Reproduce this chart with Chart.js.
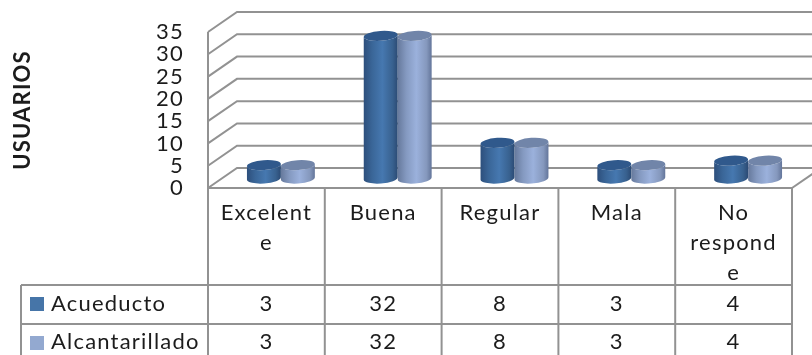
<!DOCTYPE html>
<html>
<head>
<meta charset="utf-8">
<title>Usuarios</title>
<script src="https://cdn.jsdelivr.net/npm/chart.js@4.4.0/dist/chart.umd.min.js"></script>
<style>
  html, body { margin: 0; padding: 0; background: #fff; overflow: hidden; }
  canvas { display: block; filter: blur(0.4px); }
</style>
</head>
<body>
<canvas id="chart" width="812" height="355"></canvas>
<script>
const categories = [['Excelent', 'e'], ['Buena'], ['Regular'], ['Mala'], ['No', 'respond', 'e']];
const seriesNames = ['Acueducto', 'Alcantarillado'];
const acueducto = [3, 32, 8, 3, 4];
const alcantarillado = [3, 32, 8, 3, 4];

const FONT = 'Lato, "Open Sans", sans-serif';
const TEXT = '#1c1c1c';
const LINE = '#929292';
const SPACING = '1.2px';
// how far the back wall sits behind the front edge
const DEPTH_X = 29;
const DEPTH_Y = 20;

function strokeLine(ctx, points) {
  ctx.beginPath();
  points.forEach((p, i) => i ? ctx.lineTo(p[0], p[1]) : ctx.moveTo(p[0], p[1]));
  ctx.stroke();
}

// walls and floor of the 3d box, grid follows the y scale
const wallsPlugin = {
  id: 'walls',
  beforeDatasetsDraw(chart) {
    const { ctx, scales: { x, y } } = chart;
    ctx.save();
    ctx.strokeStyle = LINE;
    ctx.lineWidth = 2;
    y.ticks.forEach(t => {
      const py = y.getPixelForValue(t.value);
      strokeLine(ctx, [[x.left, py], [x.left + DEPTH_X, py - DEPTH_Y], [812, py - DEPTH_Y]]);
    });
    strokeLine(ctx, [[x.left, y.top], [x.left, y.bottom]]);
    strokeLine(ctx, [[x.right, y.bottom], [x.right + DEPTH_X, y.bottom - DEPTH_Y]]);
    ctx.restore();
  }
};

// each bar is painted as a cylinder standing halfway into the box
const cylinderPlugin = {
  id: 'cylinder',
  beforeDatasetDraw(chart, args) {
    const { ctx } = chart;
    const dark = args.index === 0;
    const meta = chart.getDatasetMeta(args.index);
    const shiftX = DEPTH_X / 2;
    const shiftY = DEPTH_Y / 2 - 0.5;
    const tilt = -0.07;
    const ry = 5;
    meta.data.forEach(el => {
      const rx = el.width / 2;
      const cx = el.x + shiftX;
      const top = el.y - shiftY;
      const base = el.base - shiftY;
      const grad = ctx.createLinearGradient(cx - rx, 0, cx + rx, 0);
      if (dark) {
        grad.addColorStop(0, '#2d4f7c');
        grad.addColorStop(0.25, '#3a6698');
        grad.addColorStop(0.55, '#4678b0');
        grad.addColorStop(0.85, '#38618f');
        grad.addColorStop(1, '#2b4a74');
      } else {
        grad.addColorStop(0, '#66799c');
        grad.addColorStop(0.25, '#8499c0');
        grad.addColorStop(0.55, '#9bb1dc');
        grad.addColorStop(0.85, '#8598bd');
        grad.addColorStop(1, '#63759a');
      }
      ctx.save();
      ctx.fillStyle = grad;
      ctx.beginPath();
      ctx.ellipse(cx, top, rx, ry, tilt, Math.PI, 0, true);
      ctx.ellipse(cx, base, rx, ry, tilt, 0, Math.PI, false);
      ctx.closePath();
      ctx.fill();
      ctx.fillStyle = dark ? '#30598c' : '#7185a9';
      ctx.beginPath();
      ctx.ellipse(cx, top, rx, ry, tilt, 0, Math.PI * 2);
      ctx.fill();
      ctx.restore();
    });
    return false;
  }
};

// data table under the plot, with its legend keys
const tablePlugin = {
  id: 'table',
  afterDraw(chart) {
    const { ctx, scales: { x, y } } = chart;
    const rows = [
      { name: seriesNames[0], values: acueducto, color: chart.data.datasets[0].backgroundColor, textY: 304, keyY: 297 },
      { name: seriesNames[1], values: alcantarillado, color: chart.data.datasets[1].backgroundColor, textY: 342, keyY: 336 }
    ];
    const step = (x.right - x.left) / categories.length;
    ctx.save();
    ctx.letterSpacing = SPACING;
    ctx.strokeStyle = LINE;
    ctx.lineWidth = 2;
    strokeLine(ctx, [[x.left, y.bottom], [x.right, y.bottom]]);
    strokeLine(ctx, [[21, 285], [x.right, 285]]);
    strokeLine(ctx, [[21, 324], [x.right, 324]]);
    strokeLine(ctx, [[21, 285], [21, 355]]);
    for (let i = 0; i <= categories.length; i++) {
      const px = x.left + step * i;
      strokeLine(ctx, [[px, y.bottom], [px, 355]]);
    }
    ctx.font = '22px ' + FONT;
    ctx.textBaseline = 'middle';
    rows.forEach(row => {
      ctx.fillStyle = row.color;
      ctx.fillRect(30, row.keyY, 14, 14);
      ctx.fillStyle = TEXT;
      ctx.textAlign = 'left';
      ctx.fillText(row.name, 51, row.textY);
      ctx.textAlign = 'center';
      row.values.forEach((v, i) => ctx.fillText(String(v), x.getPixelForValue(i), row.textY));
    });
    ctx.restore();
  }
};

new Chart(document.getElementById('chart'), {
  type: 'bar',
  data: {
    labels: categories,
    datasets: [
      { label: seriesNames[0], data: acueducto, backgroundColor: '#4675a8' },
      { label: seriesNames[1], data: alcantarillado, backgroundColor: '#93a9d0' }
    ]
  },
  plugins: [
    { id: 'spacing', beforeDraw(chart) { chart.ctx.letterSpacing = SPACING; } },
    wallsPlugin, cylinderPlugin, tablePlugin
  ],
  options: {
    responsive: false,
    animation: false,
    categoryPercentage: 0.582,
    barPercentage: 1,
    layout: { padding: { top: 32, right: 20, bottom: 0, left: 0 } },
    plugins: { legend: { display: false }, tooltip: { enabled: false } },
    scales: {
      x: {
        afterFit(scale) { scale.height = 167; },
        grid: { display: false },
        border: { display: false },
        ticks: {
          autoSkip: false,
          maxRotation: 0,
          padding: 2,
          color: TEXT,
          font: { family: FONT, size: 22, lineHeight: 1.364 }
        }
      },
      y: {
        min: 0,
        max: 35,
        afterFit(scale) {
          scale.width = 208;
          // stop the top label from pushing the plot down
          scale.paddingTop = 0;
          scale.paddingBottom = 0;
        },
        grid: { display: false },
        border: { display: false },
        title: {
          display: true,
          text: 'USUARIOS',
          color: TEXT,
          padding: { top: 10, bottom: 0 },
          font: { family: FONT, size: 22, weight: 'bold' }
        },
        ticks: {
          autoSkip: false,
          stepSize: 5,
          padding: 16,
          color: TEXT,
          font: { family: FONT, size: 22 }
        }
      }
    }
  }
});
</script>
</body>
</html>
